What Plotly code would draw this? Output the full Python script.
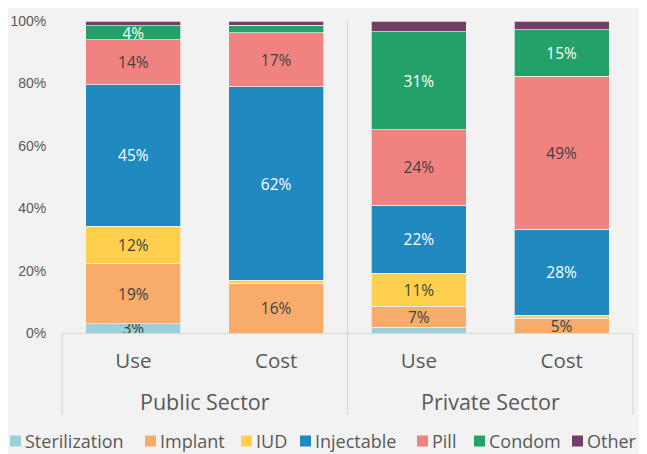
import plotly.graph_objects as go

sectors = ["Public Sector", "Public Sector", "Private Sector", "Private Sector"]
measures = ["Use", "Cost", "Use", "Cost"]

methods = ["Sterilization", "Implant", "IUD", "Injectable", "Pill", "Condom", "Other"]
sterilization = [3.0, 0.0, 1.9, 0.0]
implant = [19.2, 16.0, 6.6, 4.8]
iud = [12.0, 0.9, 10.7, 0.9]
injectable = [45.4, 62.0, 21.7, 27.6]
pill = [14.4, 17.4, 24.3, 49.0]
condom = [4.4, 2.3, 31.3, 14.9]
other = [1.6, 1.4, 3.5, 2.8]

y_ticks = [0, 20, 40, 60, 80, 100]

series = [sterilization, implant, iud, injectable, pill, condom, other]
colors = ["#9BCFDA", "#F7AC6C", "#FFCF4D", "#1F89C0", "#F08380", "#23A169", "#733F66"]
label_colors = ["#404040", "#404040", "#404040", "#ffffff", "#404040", "#ffffff", "#ffffff"]
show_labels = [True, True, True, True, True, True, False]

FONT = "Open Sans"
GREY = "#595959"
LINE = "#d9d9d9"
xpos = list(range(len(measures)))

# plot-area geometry (pixels) used to place the custom legend row
PLOT_L, PLOT_W, PLOT_B, PLOT_H = 62, 571, 333, 312
legend_left_px = [10, 145, 241, 300, 417, 474, 572]   # left edge of each legend swatch
SW = 11                                                 # swatch size in px
LEG_Y = 441                                             # legend row centre (px)

def px_x(p):
    return (p - PLOT_L) / PLOT_W

def px_y(p):
    return (PLOT_B - p) / PLOT_H

fig = go.Figure()
for name, vals, col, tcol, show in zip(methods, series, colors, label_colors, show_labels):
    texts = [f"{round(v)}%" if (show and v >= 3) else "" for v in vals]
    fig.add_trace(go.Bar(
        name=name,
        x=xpos,
        y=vals,
        width=0.665,
        marker=dict(color=col, line=dict(color="#f2f2f2", width=0.7)),
        text=texts,
        textposition="inside",
        insidetextanchor="middle",
        textangle=0,
        textfont=dict(color=tcol, size=15.5, family=FONT),
        hoverinfo="skip",
        showlegend=False,
    ))

# group dividers (layout decoration)
for px, top in [(0.0, 0.0), (0.5, 1.0), (1.0, 0.0)]:
    fig.add_shape(type="line", xref="paper", yref="paper", x0=px, x1=px, y0=-0.263, y1=top,
                  line=dict(color=LINE, width=1.3))

# outer category labels
groups = []
for i, s in enumerate(sectors):
    if not groups or groups[-1][0] != s:
        groups.append([s, []])
    groups[-1][1].append(i)
for s, idx in groups:
    fig.add_annotation(x=sum(idx) / len(idx), xref="x", y=-0.221, yref="paper",
                       text=s, showarrow=False, yanchor="middle",
                       font=dict(family=FONT, size=21.5, color=GREY))

# legend row: swatch + label
for name, col, lx in zip(methods, colors, legend_left_px):
    fig.add_shape(type="rect", xref="paper", yref="paper",
                  x0=px_x(lx), x1=px_x(lx + SW),
                  y0=px_y(LEG_Y + SW / 2), y1=px_y(LEG_Y - SW / 2),
                  fillcolor=col, line=dict(width=0))
    fig.add_annotation(x=px_x(lx + SW + 3), xref="paper", y=px_y(LEG_Y), yref="paper",
                       text=name, showarrow=False, xanchor="left", yanchor="middle",
                       borderpad=0,
                       font=dict(family=FONT, size=18, color=GREY))

fig.update_layout(
    barmode="stack",
    width=639, height=446,
    margin=dict(l=54, r=14, t=13, b=121, autoexpand=False),
    paper_bgcolor="#f2f2f2",
    plot_bgcolor="#f2f2f2",
    font=dict(family=FONT, color=GREY),
    uniformtext=dict(minsize=15.5, mode="show"),
    showlegend=False,
    xaxis=dict(range=[-0.5, 3.5], tickvals=xpos, ticktext=measures,
               showline=True, linecolor=LINE, linewidth=1.3, showgrid=False, zeroline=False,
               ticks="outside", ticklen=9, tickcolor="rgba(0,0,0,0)",
               tickfont=dict(size=20.5, color=GREY, family=FONT), automargin=False),
    yaxis=dict(range=[0, 100], tickvals=y_ticks, ticktext=[f"{v}%" for v in y_ticks],
               showgrid=False, zeroline=False, showline=False, automargin=False,
               ticks="outside", ticklen=12, tickcolor="rgba(0,0,0,0)",
               tickfont=dict(size=14, color=GREY, family="Liberation Sans")),
)

fig.write_html("out.html")
